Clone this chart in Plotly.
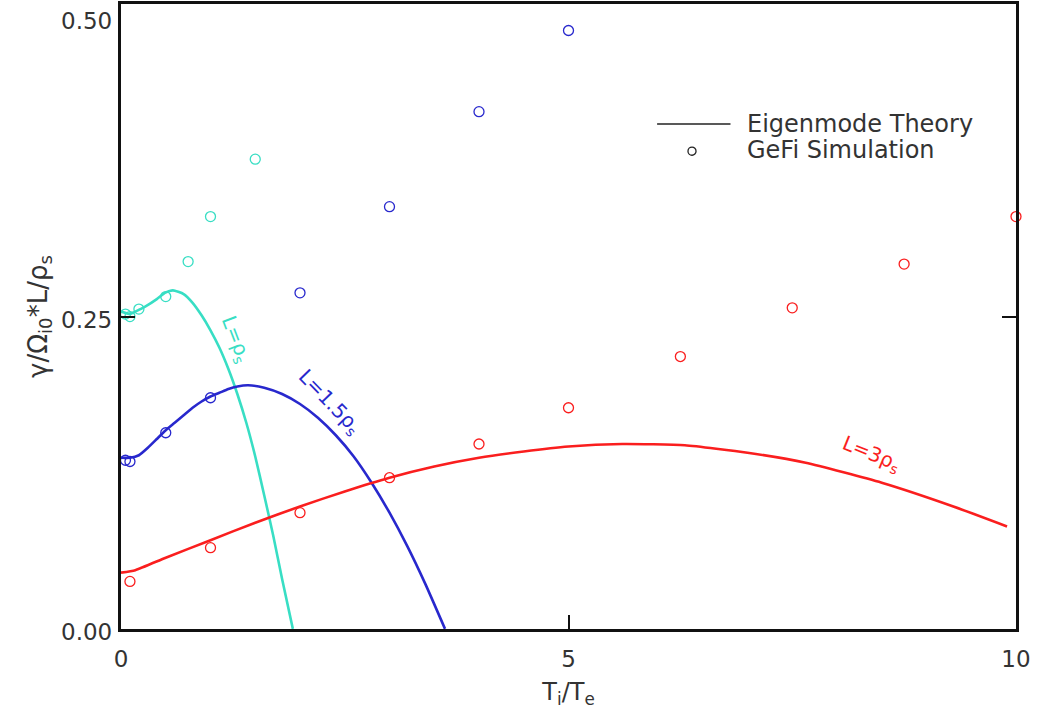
import plotly.graph_objects as go

# ---------------- data ----------------
# Eigenmode theory curves
cyan_theory_x = [0.0, 0.1, 0.16, 0.27, 0.4, 0.49, 0.58, 0.7, 0.8, 0.9, 1.0, 1.1, 1.2, 1.3, 1.4, 1.5, 1.6, 1.7, 1.8, 1.92]
cyan_theory_y = [0.254, 0.252, 0.254, 0.258, 0.264, 0.269, 0.271, 0.268, 0.261, 0.251, 0.239, 0.225, 0.208, 0.188, 0.165, 0.138, 0.107, 0.075, 0.040, 0.0]

blue_theory_x = [0.0, 0.1, 0.2, 0.3, 0.4, 0.5, 0.6, 0.7, 0.8, 0.9, 1.0, 1.1, 1.2, 1.3, 1.42, 1.6, 1.8, 2.0, 2.2, 2.4, 2.6, 2.8, 3.0, 3.2, 3.4, 3.62]
blue_theory_y = [0.137, 0.137, 0.139, 0.145, 0.152, 0.159, 0.165, 0.171, 0.177, 0.182, 0.186, 0.189, 0.192, 0.194, 0.195, 0.193, 0.188, 0.180, 0.169, 0.155, 0.138, 0.117, 0.093, 0.066, 0.036, 0.0]

red_theory_x = [0.0, 0.16, 0.5, 1.0, 1.5, 2.0, 2.5, 3.0, 3.5, 4.0, 4.5, 5.0, 5.6, 6.3, 7.0, 7.65, 8.5, 9.3, 9.9]
red_theory_y = [0.045, 0.047, 0.057, 0.071, 0.085, 0.098, 0.110, 0.121, 0.130, 0.137, 0.142, 0.146, 0.148, 0.147, 0.141, 0.133, 0.117, 0.098, 0.082]

# GeFi simulation points
cyan_sim_x = [0.05, 0.1, 0.2, 0.5, 0.75, 1.0, 1.5]
cyan_sim_y = [0.252, 0.250, 0.256, 0.266, 0.294, 0.330, 0.376]

blue_sim_x = [0.05, 0.1, 0.5, 1.0, 2.0, 3.0, 4.0, 5.0]
blue_sim_y = [0.135, 0.134, 0.157, 0.185, 0.269, 0.338, 0.414, 0.479]

red_sim_x = [0.1, 1.0, 2.0, 3.0, 4.0, 5.0, 6.25, 7.5, 8.75, 10.0]
red_sim_y = [0.038, 0.065, 0.093, 0.121, 0.148, 0.177, 0.218, 0.257, 0.292, 0.330]

x_ticks = [0, 5, 10]
x_tick_labels = ["0", "5", "10"]
y_ticks = [0.0, 0.25, 0.5]
y_tick_labels = ["0.00", "0.25", "0.50"]

CYAN = "rgb(56,222,196)"
BLUE = "rgb(40,40,205)"
RED = "rgb(250,30,30)"
FONT = "DejaVu Sans, Liberation Sans, sans-serif"
TXT = "#333333"

fig = go.Figure()

for x, y, c in [(cyan_theory_x, cyan_theory_y, CYAN),
                (blue_theory_x, blue_theory_y, BLUE),
                (red_theory_x, red_theory_y, RED)]:
    fig.add_trace(go.Scatter(x=x, y=y, mode="lines", line=dict(color=c, width=2.6, shape="spline", smoothing=0.5),
                             showlegend=False, hoverinfo="skip"))

for x, y, c in [(cyan_sim_x, cyan_sim_y, CYAN),
                (blue_sim_x, blue_sim_y, BLUE),
                (red_sim_x, red_sim_y, RED)]:
    fig.add_trace(go.Scatter(x=x, y=y, mode="markers", cliponaxis=False,
                             marker=dict(symbol="circle-open", size=10, color=c, line=dict(width=1.3, color=c)),
                             showlegend=False))

# y tick labels (as text next to the axis; the top one kept inside the page)
for v, lab in zip(y_ticks, y_tick_labels):
    top = v == max(y_ticks)
    fig.add_annotation(xref="paper", yref="y", x=0, y=v, xanchor="right",
                       yanchor="top" if top else "middle", xshift=-7, yshift=-2 if top else -3,
                       text=lab, showarrow=False, font=dict(family=FONT, size=23, color=TXT))

# curve labels
fig.add_annotation(x=1.28, y=0.232, text="L=ρ<sub>s</sub>", showarrow=False, textangle=69,
                   font=dict(family=FONT, size=20, color=CYAN))
fig.add_annotation(x=2.33, y=0.182, text="L=1.5ρ<sub>s</sub>", showarrow=False, textangle=46,
                   font=dict(family=FONT, size=20, color=BLUE))
fig.add_annotation(x=8.38, y=0.140, text="L=3ρ<sub>s</sub>", showarrow=False, textangle=22,
                   font=dict(family=FONT, size=20, color=RED))

# legend (drawn manually)
fig.add_shape(type="line", xref="paper", yref="paper", x0=0.599, x1=0.681, y0=0.808, y1=0.808,
              line=dict(color="#222222", width=1.5))
fig.add_shape(type="circle", xref="paper", yref="paper", x0=0.6335, x1=0.6425, y0=0.758, y1=0.771,
              line=dict(color="#222222", width=1.3))
fig.add_annotation(xref="paper", yref="paper", x=0.697, y=0.808, xanchor="left", yanchor="middle",
                   text="Eigenmode Theory", showarrow=False, font=dict(family=FONT, size=24, color=TXT))
fig.add_annotation(xref="paper", yref="paper", x=0.697, y=0.766, xanchor="left", yanchor="middle",
                   text="GeFi Simulation", showarrow=False, font=dict(family=FONT, size=24, color=TXT))

fig.update_layout(
    width=1039, height=728,
    margin=dict(l=121, r=23, t=4, b=99),
    plot_bgcolor="white", paper_bgcolor="white",
    font=dict(family=FONT, color=TXT),
    xaxis=dict(range=[0, 10.0001], tickvals=x_ticks, ticktext=x_tick_labels, ticks="inside", ticklen=14,
               tickwidth=1.5, tickcolor="#111", showline=True, linecolor="#111", linewidth=2.5, mirror=True,
               showgrid=False, zeroline=False, tickfont=dict(size=23, color=TXT), ticklabelstandoff=8,
               automargin=False,
               title=dict(text="T<sub>i</sub>/T<sub>e</sub>", font=dict(size=24, color=TXT), standoff=12)),
    yaxis=dict(range=[-0.0001, 0.5002], tickvals=y_ticks, ticks="inside", ticklen=14,
               tickwidth=1.5, tickcolor="#111", showline=True, linecolor="#111", linewidth=2.5, mirror="ticks",
               showgrid=False, zeroline=False, showticklabels=False, automargin=False),
)

# y-axis title
fig.add_annotation(xref="paper", yref="paper", x=0, y=0.5, xshift=-100, textangle=-90,
                   text="γ/Ω<sub>i0</sub>*L/ρ<sub>s</sub>", showarrow=False,
                   font=dict(family=FONT, size=26, color=TXT))

fig.write_html("out.html")
